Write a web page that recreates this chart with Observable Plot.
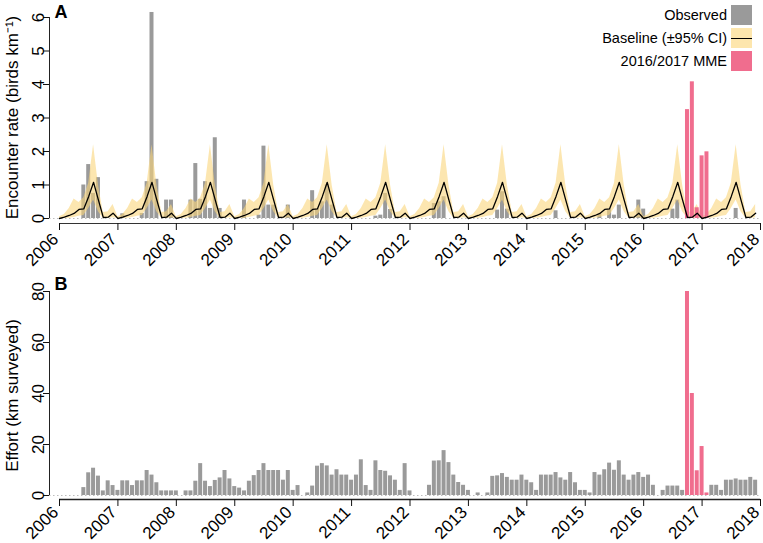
<!DOCTYPE html>
<html><head><meta charset="utf-8">
<script src="https://cdn.jsdelivr.net/npm/d3@7"></script>
<script src="https://cdn.jsdelivr.net/npm/@observablehq/plot@0.6"></script>
<style>
body{margin:0;background:#fff;}
#chart{position:relative;width:763px;height:543px;font-family:'Liberation Sans',Arial,Helvetica,sans-serif;}
#chart svg{display:block;}
.lg{position:absolute;right:11px;height:20px;display:flex;align-items:center;font-size:14.5px;color:#000;white-space:nowrap;}
.lg .sw{display:inline-block;width:21px;height:20px;margin-left:4px;position:relative;}
.lg .ln{position:absolute;left:0;right:0;top:9.5px;height:1.4px;background:#000;}
</style></head><body><div id="chart"></div>
<script>
// ---- data ----
const yearTicks = [2006,2007,2008,2009,2010,2011,2012,2013,2014,2015,2016,2017,2018];
const encounterTicks = [0,1,2,3,4,5,6];
const effortTicks = [0,20,40,60,80];
const firstYear = 2006;

// monthly encounter rate (birds/km), Jan 2006 .. Dec 2017
const encounterRate = [
  0,0,0,0,0,1.0,1.61,0.75,1.22,0,0,0,          // 2006
  0,0.14,0,0,0,0.15,1.1,6.15,1.17,0,0.55,0.55, // 2007
  0,0,0,0.55,1.64,0.57,1.1,0.3,2.41,0.3,0,0,   // 2008
  0,0,0.55,0,0,0.1,2.16,0.4,0.4,0,0,0.4,       // 2009
  0,0,0,0,0.83,0.28,0.5,1.0,0.4,0,0,0,         // 2010
  0,0,0,0,0,0.07,0.1,0.75,0.27,0,0,0,          // 2011
  0,0,0,0,0,0.45,0.5,0.65,0,0,0,0,             // 2012
  0,0,0,0,0,0,0.25,0.8,0.28,0,0,0,             // 2013
  0,0,0,0,0,0,0.23,0,0,0,0,0,                  // 2014
  0,0,0,0.12,0,0.27,0.1,0.4,0,0,0,0.55,        // 2015
  0.28,0,0,0,0,0,0.28,0.55,0,3.25,4.08,0.32,   // 2016
  1.87,1.99,0,0,0,0,0,0.3,0,0,0,0              // 2017
];

// monthly survey effort (km), Jan 2006 .. Dec 2017
const effortKm = [
  0,0,0,0,0,3.1,8.9,10.7,7.6,1.8,5.75,3.9,        // 2006
  2.0,5.75,5.75,3.9,5.75,5.75,9.8,8.0,5.0,1.8,1.8,1.8, // 2007
  1.8,0,1.8,1.8,5.6,12.5,5.6,3.5,5.9,6.9,9.8,6.5,  // 2008
  3.5,2.9,1.8,5.6,7.8,9.8,12.5,9.8,9.8,9.8,6.0,9.8, // 2009
  2.0,3.9,0,1.0,3.7,11.5,12.5,11.6,8.0,10.1,8.0,8.0, // 2010
  6.0,8.0,14.0,3.9,2.0,13.6,9.8,9.5,7.7,6.0,2.0,12.5, // 2011
  1.8,0,0,0,4.0,13.5,13.6,17.6,12.9,8.0,5.1,4.0,   // 2012
  2.0,0,1.0,0,1.0,7.5,7.7,8.6,7.1,6.0,6.0,8.0,     // 2013
  6.0,5.0,2.0,8.0,8.0,8.0,9.0,6.9,6.0,9.0,5.0,2.0, // 2014
  2.0,1.0,9.0,8.0,10.1,12.7,9.9,13.6,8.0,6.0,8.0,9.0, // 2015
  7.1,8.0,4.0,0,2.0,3.7,3.7,3.7,2.0,80,40,9.7,     // 2016
  19.2,1.0,4.0,4.0,2.0,6.0,6.0,6.5,6.0,6.0,7.1,6.0 // 2017
];

// months of the 2016/2017 mass mortality event
const mmeMonths = ["2016-10","2016-11","2016-12","2017-01","2017-02"];

// seasonal baseline (Jan..Dec), identical every year
const baselineMonthly = [0.0,0.04,0.09,0.15,0.27,0.29,0.66,1.08,0.55,0.03,0.04,0.16];
const ciLowMonthly    = [0.0,0.0,0.01,0.03,0.07,0.09,0.3,0.55,0.2,0.0,0.0,0.02];
const ciHighMonthly   = [0.05,0.12,0.3,0.58,0.48,0.62,1.05,2.2,1.0,0.18,0.2,0.42];

// ---- build tables ----
const rows = encounterRate.map((v, i) => {
  const y = firstYear + Math.floor(i / 12), m = i % 12;
  const key = `${y}-${String(m + 1).padStart(2, "0")}`;
  return {t: y + m / 12, rate: v, effort: effortKm[i], mme: mmeMonths.includes(key)};
});
const baseRows = rows.map((r, i) => ({t: r.t, base: baselineMonthly[i % 12], lo: ciLowMonthly[i % 12], hi: ciHighMonthly[i % 12]}));

const GREY = "#9a9a9a", PINK = "#f06d8e", BAND = "#fad67c";
const halfBar = 0.41 / 12;
const FS = 17;
const font = {fontFamily: "'Liberation Sans', Arial, Helvetica, sans-serif", fontSize: "17px", color: "#000", background: "#fff", overflow: "visible"};

function xAxisMarks(labelDy) {
  return [
    Plot.axisX({ticks: yearTicks, tickFormat: () => "", tickSize: 7, label: null, stroke: "#111"}),
    Plot.text(yearTicks, {x: d => d, text: d => String(d), frameAnchor: "bottom", rotate: -45, textAnchor: "end", lineAnchor: "middle", dx: -4, dy: labelDy, fontSize: FS})
  ];
}
function yAxisMarks(ticks) {
  return [
    Plot.ruleX([yearTicks[0]], {y1: ticks[0], y2: ticks[ticks.length - 1], dx: -10, stroke: "#222"}),
    Plot.axisY({ticks, tickFormat: () => "", tickSize: 6, label: null, stroke: "#111"}),
    Plot.text(ticks, {y: d => d, text: d => String(d), frameAnchor: "left", rotate: -90, textAnchor: "middle", lineAnchor: "bottom", dx: -6, fontSize: FS})
  ];
}

// ---- panel A ----
const plotA = Plot.plot({
  width: 763, height: 270,
  marginLeft: 49, marginRight: 3, marginTop: 17, marginBottom: 47,
  x: {domain: [yearTicks[0], yearTicks[yearTicks.length - 1]], insetLeft: 10},
  y: {domain: [0, 6], insetBottom: 5},
  style: font,
  marks: [
    Plot.ruleY([0], {stroke: "#bdbdbd", strokeDasharray: "1.5,2.5"}),
    Plot.rectY(rows.filter(d => !d.mme && d.rate > 0), {x1: d => d.t - halfBar, x2: d => d.t + halfBar, y: "rate", fill: GREY}),
    Plot.areaY(baseRows, {x: "t", y1: "lo", y2: "hi", fill: BAND, fillOpacity: 0.6}),
    Plot.rectY(rows.filter(d => d.mme), {x1: d => d.t - halfBar, x2: d => d.t + halfBar, y: "rate", fill: PINK}),
    Plot.lineY(baseRows, {x: "t", y: "base", stroke: "#000", strokeWidth: 1.3}),
    Plot.ruleY([0], {x1: yearTicks[0], x2: yearTicks[yearTicks.length - 1], dy: 5, stroke: "#333", strokeWidth: 1.1}),
    ...yAxisMarks(encounterTicks),
    ...xAxisMarks(13),
    Plot.text(["Encounter rate (birds km⁻¹)"], {frameAnchor: "left", rotate: -90, dx: -32, dy: -3, lineAnchor: "bottom", textAnchor: "middle", fontSize: FS}),
    Plot.text(["A"], {frameAnchor: "top-left", dx: 5, dy: -12, lineAnchor: "top", textAnchor: "start", fontSize: 18, fontWeight: "bold"})
  ]
});

// ---- panel B ----
const plotB = Plot.plot({
  width: 763, height: 273,
  marginLeft: 49, marginRight: 3, marginTop: 21, marginBottom: 44,
  x: {domain: [yearTicks[0], yearTicks[yearTicks.length - 1]], insetLeft: 10},
  y: {domain: [0, 80], insetBottom: 4},
  style: font,
  marks: [
    Plot.ruleY([0], {stroke: "#bdbdbd", strokeDasharray: "1.5,2.5"}),
    Plot.rectY(rows.filter(d => !d.mme && d.effort > 0), {x1: d => d.t - halfBar, x2: d => d.t + halfBar, y: "effort", fill: GREY}),
    Plot.rectY(rows.filter(d => d.mme), {x1: d => d.t - halfBar, x2: d => d.t + halfBar, y: "effort", fill: PINK}),
    Plot.ruleY([0], {x1: yearTicks[0], x2: yearTicks[yearTicks.length - 1], dy: 4, stroke: "#222", strokeWidth: 1.3}),
    ...yAxisMarks(effortTicks),
    ...xAxisMarks(10),
    Plot.text(["Effort (km surveyed)"], {frameAnchor: "left", rotate: -90, dx: -32, lineAnchor: "bottom", textAnchor: "middle", fontSize: FS}),
    Plot.text(["B"], {frameAnchor: "top-left", dx: 5, dy: -14, lineAnchor: "top", textAnchor: "start", fontSize: 18, fontWeight: "bold"})
  ]
});

const chart = document.getElementById("chart");
chart.appendChild(plotA);
chart.appendChild(plotB);

// ---- legend (panel A, top right) ----
const legendItems = [
  {label: "Observed", color: GREY, line: false, top: 5},
  {label: "Baseline (±95% CI)", color: "#fde6ad", line: true, top: 28},
  {label: "2016/2017 MME", color: PINK, line: false, top: 51}
];
for (const it of legendItems) {
  const row = document.createElement("div");
  row.className = "lg";
  row.style.top = it.top + "px";
  const txt = document.createElement("span");
  txt.textContent = it.label;
  const sw = document.createElement("span");
  sw.className = "sw";
  sw.style.background = it.color;
  if (it.line) { const ln = document.createElement("span"); ln.className = "ln"; sw.appendChild(ln); }
  row.appendChild(txt); row.appendChild(sw);
  chart.appendChild(row);
}
</script></body></html>
